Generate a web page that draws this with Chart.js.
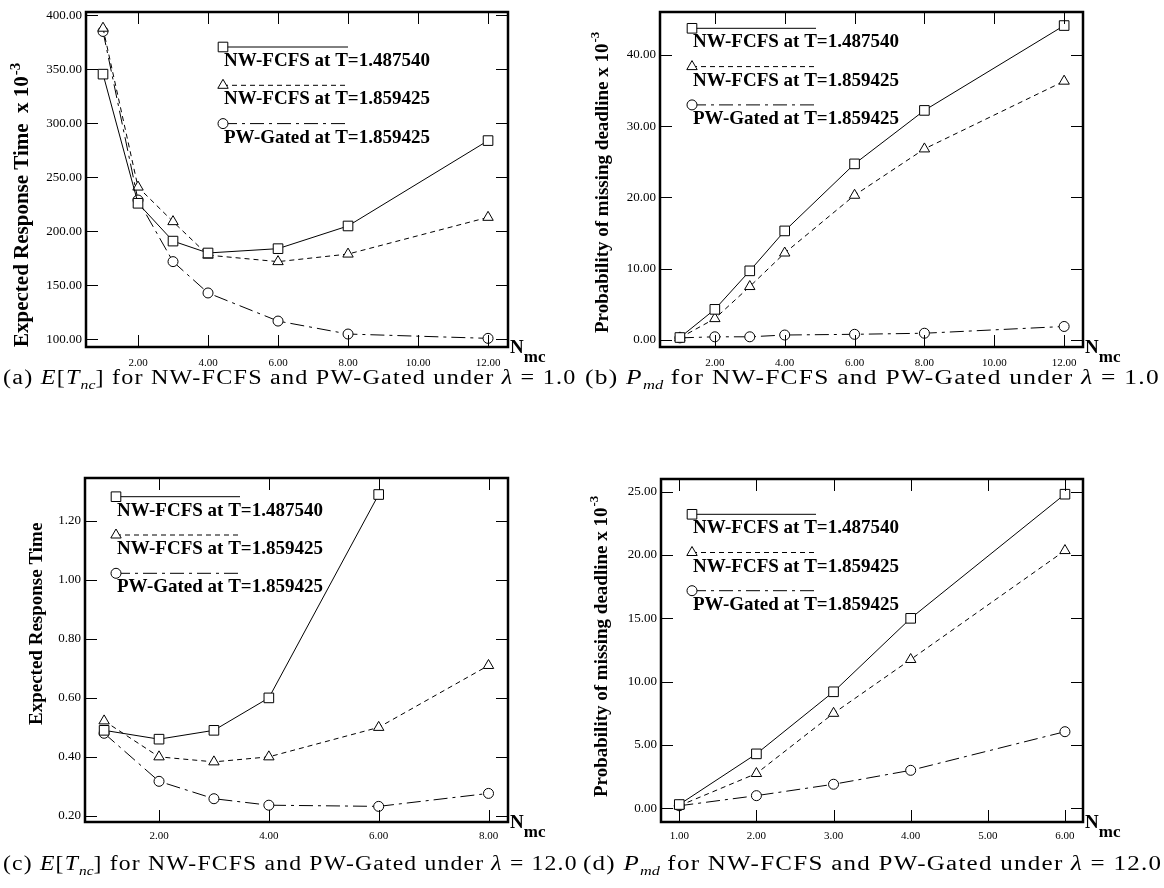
<!DOCTYPE html>
<html>
<head>
<meta charset="utf-8">
<script src="https://cdn.jsdelivr.net/npm/chart.js@4.4.1/dist/chart.umd.min.js"></script>
<style>
body { margin: 0; background: #fff; width: 1164px; height: 888px; position: relative; overflow: hidden; }
canvas { position: absolute; }
.cap { position: absolute; font-family: 'Liberation Serif', serif; font-size: 20px; line-height: 22px; letter-spacing: 1px; white-space: nowrap; transform-origin: left center; color: #000; }
.cap sub { font-size: 13px; letter-spacing: 0; }
</style>
</head>
<body>
<canvas id="chartA" width="580" height="400" style="left:0;top:0"></canvas>
<canvas id="chartB" width="584" height="400" style="left:580px;top:0"></canvas>
<canvas id="chartC" width="580" height="440" style="left:0;top:440px"></canvas>
<canvas id="chartD" width="584" height="440" style="left:580px;top:440px"></canvas>

<div class="cap" id="capA" data-w="574" style="left:3px;top:366px">(a) <i>E</i>[<i>T<sub>nc</sub></i>] for NW-FCFS and PW-Gated under <i>λ</i> = 1.0</div>
<div class="cap" id="capB" data-w="575" style="left:585px;top:366px">(b) <i>P<sub>md</sub></i> for NW-FCFS and PW-Gated under <i>λ</i> = 1.0</div>
<div class="cap" id="capC" data-w="575" style="left:3px;top:852px">(c) <i>E</i>[<i>T<sub>nc</sub></i>] for NW-FCFS and PW-Gated under <i>λ</i> = 12.0</div>
<div class="cap" id="capD" data-w="579" style="left:583px;top:852px">(d) <i>P<sub>md</sub></i> for NW-FCFS and PW-Gated under <i>λ</i> = 12.0</div>

<script>
// series labels
const seriesNames = ['NW-FCFS at T=1.487540', 'NW-FCFS at T=1.859425', 'PW-Gated at T=1.859425'];

// (a) expected response time x 10^-3, lambda = 1.0
const nmcA = [1, 2, 3, 4, 6, 8, 12];
const respFcfs1A = [345.5, 226, 191, 180, 184, 205, 284];
const respFcfs2A = [388, 241, 209, 178, 172, 179, 213];
const respGatedA = [385, 229, 172, 143, 117, 105, 101];

// (b) probability of missing deadline x 10^-3, lambda = 1.0
const nmcB = [1, 2, 3, 4, 6, 8, 12];
const pmdFcfs1B = [0.35, 4.3, 9.7, 15.3, 24.7, 32.2, 44.1];
const pmdFcfs2B = [0.3, 3.0, 7.5, 12.2, 20.3, 26.8, 36.3];
const pmdGatedB = [0.3, 0.45, 0.45, 0.7, 0.8, 0.95, 1.9];

// (c) expected response time, lambda = 12.0
const nmcFcfs1C = [1, 2, 3, 4, 6];
const nmcC = [1, 2, 3, 4, 6, 8];
const respFcfs1C = [0.49, 0.46, 0.49, 0.60, 1.29];
const respFcfs2C = [0.522, 0.40, 0.383, 0.40, 0.50, 0.71];
const respGatedC = [0.48, 0.317, 0.258, 0.236, 0.232, 0.276];

// (d) probability of missing deadline x 10^-3, lambda = 12.0
const nmcD = [1, 2, 3, 4, 6];
const pmdFcfs1D = [0.3, 4.3, 9.2, 15.0, 24.8];
const pmdFcfs2D = [0.2, 2.75, 7.5, 11.75, 20.35];
const pmdGatedD = [0.2, 1.0, 1.9, 3.0, 6.05];

const serif = "'Liberation Serif', 'Times New Roman', serif";
const dashes = [[], [5, 4], [14, 5, 3, 5]];
const styles = ['rect', 'triangle', 'circle'];
const radii = [6.8, 6, 5];

function series(i, xs, ys) {
    return {
        label: seriesNames[i],
        data: xs.map((x, k) => ({ x: x, y: ys[k] })),
        borderColor: '#000',
        borderWidth: 1,
        borderDash: dashes[i],
        pointStyle: styles[i],
        pointRadius: radii[i],
        pointBackgroundColor: '#fff',
        pointBorderColor: '#000',
        pointBorderWidth: 1,
        fill: false,
        tension: 0
    };
}

function marker(ctx, style, x, y, r) {
    ctx.beginPath();
    if (style === 'rect') {
        const s = r * Math.SQRT1_2;
        ctx.rect(x - s, y - s, 2 * s, 2 * s);
    } else if (style === 'triangle') {
        ctx.moveTo(x, y - r);
        ctx.lineTo(x + r * 0.866, y + r / 2);
        ctx.lineTo(x - r * 0.866, y + r / 2);
        ctx.closePath();
    } else {
        ctx.arc(x, y, r, 0, Math.PI * 2);
    }
    ctx.setLineDash([]);
    ctx.fillStyle = '#fff';
    ctx.fill();
    ctx.stroke();
}

// frame with inward ticks, legend, axis titles, N_mc label
function paperPlugin(cfg) {
    return {
        id: 'paper',
        afterDraw(chart) {
            const ctx = chart.ctx, a = chart.chartArea;
            const xs = chart.scales.x, ys = chart.scales.y;
            ctx.save();
            ctx.strokeStyle = '#000';
            ctx.lineWidth = 1;
            ctx.setLineDash([]);
            ctx.beginPath();
            xs.ticks.forEach(t => {
                if (t.value < xs.min || t.value > xs.max) return;
                const px = Math.round(xs.getPixelForValue(t.value)) + 0.5;
                ctx.moveTo(px, a.bottom); ctx.lineTo(px, a.bottom - 12);
                ctx.moveTo(px, a.top); ctx.lineTo(px, a.top + 12);
            });
            ys.ticks.forEach(t => {
                if (t.value < ys.min || t.value > ys.max) return;
                const py = Math.round(ys.getPixelForValue(t.value)) + 0.5;
                ctx.moveTo(a.left, py); ctx.lineTo(a.left + 12, py);
                ctx.moveTo(a.right, py); ctx.lineTo(a.right - 12, py);
            });
            ctx.stroke();
            ctx.lineWidth = 2.5;
            ctx.strokeRect(a.left, a.top, a.right - a.left, a.bottom - a.top);

            // legend
            ctx.lineWidth = 1;
            chart.data.datasets.forEach((ds, i) => {
                const y = cfg.legY + i * cfg.legStep;
                ctx.setLineDash(ds.borderDash);
                ctx.beginPath();
                ctx.moveTo(cfg.legX, y);
                ctx.lineTo(cfg.legEnd, y);
                ctx.stroke();
                marker(ctx, ds.pointStyle, cfg.legX, y, ds.pointRadius);
                ctx.fillStyle = '#000';
                ctx.font = 'bold 19px ' + serif;
                ctx.textAlign = 'left';
                ctx.textBaseline = 'alphabetic';
                ctx.fillText(ds.label, cfg.legX + 1, y + 19);
            });

            // N_mc
            ctx.fillStyle = '#000';
            ctx.font = 'bold 19px ' + serif;
            ctx.fillText('N', a.right + 2, a.bottom + 6);
            const nw = ctx.measureText('N').width;
            ctx.font = 'bold 17px ' + serif;
            ctx.fillText('mc', a.right + 2 + nw, a.bottom + 15);

            // rotated axis title
            ctx.translate(cfg.titleX, cfg.titleY);
            ctx.rotate(-Math.PI / 2);
            ctx.font = 'bold ' + cfg.titleSize + 'px ' + serif;
            ctx.textBaseline = 'middle';
            ctx.fillText(cfg.title, 0, 0);
            if (cfg.sup) {
                const w = ctx.measureText(cfg.title).width;
                ctx.font = 'bold ' + Math.round(cfg.titleSize * 0.7) + 'px ' + serif;
                ctx.fillText(cfg.sup, w + 1, -7);
            }
            ctx.restore();
        }
    };
}

function makeChart(id, datasets, s) {
    const ctx = document.getElementById(id).getContext('2d');
    return new Chart(ctx, {
        type: 'line',
        data: { datasets: datasets },
        options: {
            responsive: false,
            animation: false,
            layout: { padding: { left: 0, top: s.top, right: s.right, bottom: 0 } },
            plugins: { legend: { display: false }, tooltip: { enabled: false } },
            scales: {
                x: {
                    type: 'linear', min: s.xMin, max: s.xMax,
                    grid: { display: false, drawTicks: false },
                    border: { display: false },
                    ticks: {
                        stepSize: s.xStep, includeBounds: false, autoSkip: false, maxRotation: 0,
                        padding: s.xPad, color: '#000', font: { family: serif, size: 11 },
                        callback: v => Number(v).toFixed(2)
                    },
                    afterFit: sc => { sc.height = s.xHeight; }
                },
                y: {
                    min: s.yMin, max: s.yMax,
                    grid: { display: false, drawTicks: false },
                    border: { display: false },
                    ticks: {
                        stepSize: s.yStep, includeBounds: false, autoSkip: false,
                        padding: 4, color: '#000', font: { family: serif, size: 13 },
                        callback: v => Number(v).toFixed(2)
                    },
                    afterFit: sc => { sc.width = s.yWidth; }
                }
            }
        },
        plugins: [paperPlugin(s)]
    });
}

makeChart('chartA', [
    series(0, nmcA, respFcfs1A),
    series(1, nmcA, respFcfs2A),
    series(2, nmcA, respGatedA)
], {
    top: 12, right: 72, yWidth: 86, xHeight: 53, xPad: 10,
    xMin: 0.514, xMax: 12.57, xStep: 2, yMin: 93, yMax: 403, yStep: 50,
    legX: 223, legY: 47, legStep: 38.3, legEnd: 348,
    titleX: 23, titleY: 347, titleSize: 21, title: 'Expected Response Time  x 10', sup: '-3'
});

makeChart('chartB', [
    series(0, nmcB, pmdFcfs1B),
    series(1, nmcB, pmdFcfs2B),
    series(2, nmcB, pmdGatedB)
], {
    top: 12, right: 81, yWidth: 80, xHeight: 53, xPad: 10,
    xMin: 0.43, xMax: 12.54, xStep: 2, yMin: -0.98, yMax: 46.0, yStep: 10,
    legX: 112, legY: 28.3, legStep: 38.3, legEnd: 236,
    titleX: 23, titleY: 333, titleSize: 19, title: 'Probability of missing deadline x 10', sup: '-3'
});

makeChart('chartC', [
    series(0, nmcFcfs1C, respFcfs1C),
    series(1, nmcC, respFcfs2C),
    series(2, nmcC, respGatedC)
], {
    top: 38, right: 72, yWidth: 85, xHeight: 58, xPad: 8,
    xMin: 0.652, xMax: 8.355, xStep: 2, yMin: 0.179, yMax: 1.346, yStep: 0.2,
    legX: 116, legY: 56.7, legStep: 38.3, legEnd: 240,
    titleX: 37, titleY: 285, titleSize: 19, title: 'Expected Response Time', sup: ''
});

makeChart('chartD', [
    series(0, nmcD, pmdFcfs1D),
    series(1, nmcD, pmdFcfs2D),
    series(2, nmcD, pmdGatedD)
], {
    top: 39, right: 81, yWidth: 81, xHeight: 58, xPad: 8,
    xMin: 0.763, xMax: 6.234, xStep: 1, yMin: -1.08, yMax: 26.0, yStep: 5,
    legX: 112, legY: 74.3, legStep: 38.2, legEnd: 236,
    titleX: 22, titleY: 357, titleSize: 19, title: 'Probability of missing deadline x 10', sup: '-3'
});

// stretch captions to the printed width
document.querySelectorAll('.cap').forEach(el => {
    const target = Number(el.dataset.w);
    el.style.transform = 'scaleX(' + (target / el.offsetWidth).toFixed(3) + ')';
});
</script>
</body>
</html>
